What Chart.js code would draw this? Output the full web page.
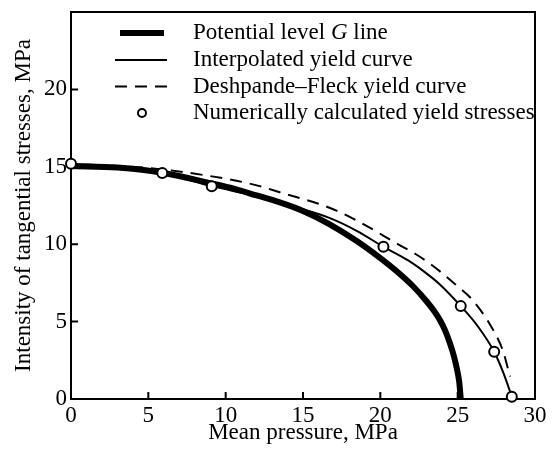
<!DOCTYPE html>
<html>
<head>
<meta charset="utf-8">
<script src="https://cdn.jsdelivr.net/npm/chart.js@4"></script>
<style>
  html, body { margin: 0; padding: 0; background: #fff; }
  #wrap { width: 554px; height: 455px; }
</style>
</head>
<body>
<div id="wrap"><canvas id="yieldChart"></canvas></div>
<script>
// values (mean pressure, MPa -> tangential stress intensity, MPa)
const gX = [0, 3, 6, 9, 10.3, 12, 13.5, 15, 16.7, 18.4, 20, 21, 22.1, 23, 23.5, 23.85, 24.2, 24.5, 24.75, 24.95, 25.1, 25.2];
const gY = [15.05, 14.95, 14.6, 13.95, 13.65, 13.15, 12.7, 12.15, 11.3, 10.25, 9.1, 8.3, 7.3, 6.3, 5.65, 5.1, 4.4, 3.6, 2.8, 1.95, 1.1, 0];

const interpX = [0, 3, 5.9, 9.1, 12, 14.5, 16.7, 18.5, 20.2, 21.8, 23, 23.85, 25.2, 26.3, 27.36, 27.95, 28.5];
const interpY = [15.2, 15.0, 14.6, 13.75, 13.1, 12.4, 11.7, 10.85, 9.83, 8.95, 8.1, 7.4, 6.0, 4.7, 3.05, 1.7, 0.15];

const dfX = [0, 3, 5.75, 9, 10.7, 12.2, 14, 15.9, 17.2, 18.9, 21.05, 22.3, 23.2, 24.8, 26.0, 27.3, 27.95, 28.27, 28.4];
const dfY = [15.1, 15.05, 14.85, 14.4, 14.1, 13.75, 13.2, 12.65, 12.15, 11.3, 10.05, 9.35, 8.75, 7.45, 6.35, 4.45, 3.05, 1.9, 1.45];

const numX = [0, 5.9, 9.1, 20.2, 25.2, 27.36, 28.5];
const numY = [15.2, 14.6, 13.75, 9.83, 6.0, 3.05, 0.15];

const xTicks = [0, 5, 10, 15, 20, 25, 30];
const yTicks = [0, 5, 10, 15, 20];
const seriesLabels = ['Potential level G line', 'Interpolated yield curve',
                      'Deshpande\u2013Fleck yield curve', 'Numerically calculated yield stresses'];

const toXY = (xs, ys) => xs.map((x, i) => ({ x, y: ys[i] }));
const SERIF = '"Liberation Serif", "Times New Roman", serif';

// box round the plot + inward tick marks
const frame = {
  id: 'frame',
  beforeDatasetsDraw(chart) {
    const { ctx, chartArea: a, scales } = chart;
    ctx.save();
    ctx.strokeStyle = '#000';
    ctx.lineWidth = 2;
    ctx.strokeRect(a.left, a.top, a.right - a.left, a.bottom - a.top);
    ctx.beginPath();
    xTicks.slice(1, -1).forEach(v => {
      const px = scales.x.getPixelForValue(v);
      ctx.moveTo(px, a.bottom); ctx.lineTo(px, a.bottom - 7);
    });
    yTicks.slice(1).forEach(v => {
      const py = scales.y.getPixelForValue(v);
      ctx.moveTo(a.left, py); ctx.lineTo(a.left + 7, py);
    });
    ctx.stroke();
    ctx.restore();
  }
};

// legend in the upper part of the plot, G in italics
const legendBox = {
  id: 'legendBox',
  afterDraw(chart) {
    const ctx = chart.ctx;
    const rows = [33, 60, 86.5, 113];
    const ds = chart.data.datasets;
    ctx.save();
    ctx.fillStyle = '#000';
    ctx.strokeStyle = '#000';
    ctx.textBaseline = 'middle';
    seriesLabels.forEach((lab, i) => {
      const y = rows[i];
      const d = ds.find(s => s.label === lab);
      if (d.showLine) {
        ctx.lineWidth = d.borderWidth;
        ctx.setLineDash(d.borderDash || []);
        ctx.beginPath();
        ctx.moveTo(i === 0 ? 120 : 115, y);
        ctx.lineTo(i === 0 ? 164 : 167, y);
        ctx.stroke();
        ctx.setLineDash([]);
      } else {
        ctx.lineWidth = d.borderWidth;
        ctx.beginPath();
        ctx.arc(142, y, d.pointRadius - 1, 0, Math.PI * 2);
        ctx.fillStyle = '#fff';
        ctx.fill();
        ctx.stroke();
        ctx.fillStyle = '#000';
      }
      let tx = 193;
      const parts = lab.includes(' G ') ? lab.split(/( G )/) : [lab];
      parts.forEach(p => {
        if (p === ' G ') {
          ctx.font = '23px ' + SERIF;
          tx += ctx.measureText(' ').width;
          ctx.font = 'italic 23px ' + SERIF;
          ctx.fillText('G', tx, y);
          tx += ctx.measureText('G').width;
          ctx.font = '23px ' + SERIF;
          ctx.fillText(' ', tx, y);
          tx += ctx.measureText(' ').width;
        } else {
          ctx.font = '23px ' + SERIF;
          ctx.fillText(p, tx, y);
          tx += ctx.measureText(p).width;
        }
      });
    });
    ctx.restore();
  }
};

new Chart(document.getElementById('yieldChart'), {
  type: 'scatter',
  data: {
    datasets: [
      {
        label: seriesLabels[3], data: toXY(numX, numY), order: 0,
        showLine: false, pointRadius: 5, pointBorderWidth: 2, borderWidth: 2,
        pointBackgroundColor: '#fff', pointBorderColor: '#000', clip: false
      },
      {
        label: seriesLabels[1], data: toXY(interpX, interpY), order: 1,
        showLine: true, borderColor: '#000', borderWidth: 2, pointRadius: 0,
        cubicInterpolationMode: 'monotone'
      },
      {
        label: seriesLabels[2], data: toXY(dfX, dfY), order: 2,
        showLine: true, borderColor: '#000', borderWidth: 2, borderDash: [12, 8], pointRadius: 0,
        cubicInterpolationMode: 'monotone'
      },
      {
        label: seriesLabels[0], data: toXY(gX, gY), order: 3,
        showLine: true, borderColor: '#000', borderWidth: 6, pointRadius: 0,
        cubicInterpolationMode: 'monotone'
      }
    ]
  },
  options: {
    responsive: true, maintainAspectRatio: false, animation: false,
    layout: { padding: { top: 12, right: 19, left: 0, bottom: 0 } },
    plugins: { legend: { display: false }, tooltip: { enabled: false } },
    scales: {
      x: {
        type: 'linear', min: 0, max: 30,
        afterFit: s => { s.height = 56; },
        border: { display: false },
        grid: { display: false, drawTicks: false },
        afterBuildTicks: s => { s.ticks = xTicks.map(v => ({ value: v })); },
        ticks: { color: '#000', font: { family: SERIF, size: 23 }, padding: 3, maxRotation: 0 },
        title: { display: true, text: 'Mean pressure, MPa', color: '#000',
                 font: { family: SERIF, size: 23 }, padding: { top: 0, bottom: 8 } }
      },
      y: {
        type: 'linear', min: 0, max: 25,
        afterFit: s => { s.width = 71; s.paddingTop = 0; s.paddingBottom = 0; },
        border: { display: false },
        grid: { display: false, drawTicks: false },
        afterBuildTicks: s => { s.ticks = yTicks.map(v => ({ value: v })); },
        ticks: { color: '#000', font: { family: SERIF, size: 23 }, padding: 4 },
        title: { display: true, text: 'Intensity of tangential stresses, MPa', color: '#000',
                 font: { family: SERIF, size: 23 }, padding: { top: 10, bottom: 0 } }
      }
    }
  },
  plugins: [frame, legendBox]
});
</script>
</body>
</html>
